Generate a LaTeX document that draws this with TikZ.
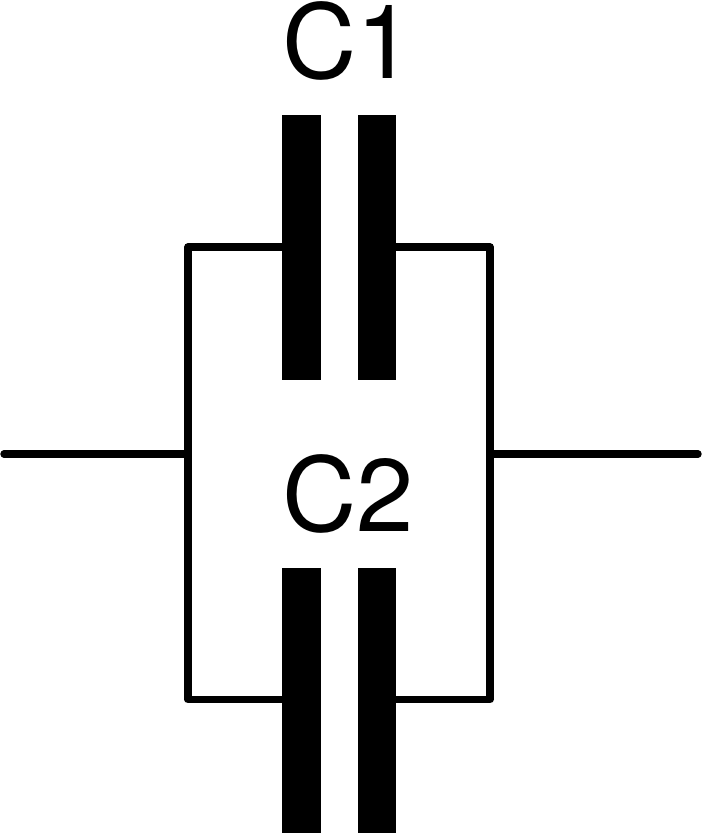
\documentclass[tikz,border=0pt]{standalone}
\usepackage{fontspec}
\setmainfont{TeX Gyre Heros}
\begin{document}
\begin{tikzpicture}[x=1pt,y=-1pt,
  plate/.style={fill=black,draw=none,minimum width=38.5pt,minimum height=265pt,inner sep=0pt,outer sep=0pt},
  wire/.style={line width=7.4pt,line cap=round,line join=round},
  lab/.style={font=\fontsize{103}{103}\selectfont,inner sep=0pt,anchor=base west}]
\useasboundingbox (0,0) rectangle (702,833);
\node[plate] (a1) at (301.5,247.5) {};
\node[plate] (a2) at (377,247.5) {};
\node[plate] (b1) at (301.5,700.5) {};
\node[plate] (b2) at (377,700.5) {};
\coordinate (l) at (4,454);
\coordinate (r) at (698,454);
\coordinate (jl) at (188,454);
\coordinate (jr) at (490,454);
\draw[wire] (l) -- (jl);
\draw[wire] (jr) -- (r);
\draw[wire] (a1.west |- 0,247) -| (jl);
\draw[wire] (a2.east |- 0,247) -| (jr);
\draw[wire] (b1.west |- 0,699.5) -| (jl);
\draw[wire] (b2.east |- 0,699.5) -| (jr);
\node[lab] (c1) at (282,78) {C1};
\node[lab] (c2) at (282,531) {C2};
\end{tikzpicture}
\end{document}
